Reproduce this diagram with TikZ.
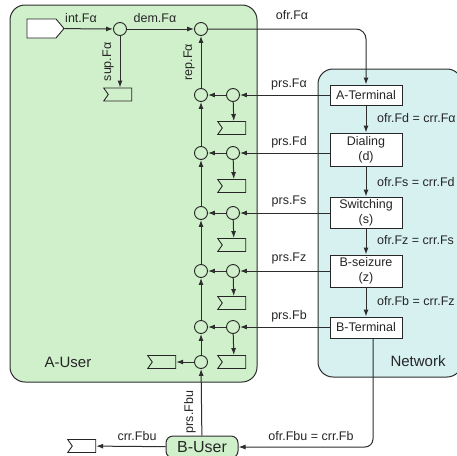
\documentclass[tikz,border=0pt]{standalone}
\usepackage{fontspec}
\setmainfont{Liberation Sans}
\usetikzlibrary{arrows.meta,shapes.symbols,calc}
\definecolor{ugreen}{RGB}{208,240,203}
\definecolor{ncyan}{RGB}{214,241,240}
\definecolor{edgec}{RGB}{45,45,45}
\begin{document}
\begin{tikzpicture}[x=1pt,y=-1pt,
  lbl/.style={font=\fontsize{12.5}{14}\selectfont, inner sep=0pt, text=black!85},
  big/.style={font=\fontsize{15}{18}\selectfont, inner sep=0pt, text=black!85},
  area/.style={draw=edgec, line width=1pt, rounded corners=15},
  pt/.style={circle, draw=black!85, minimum size=13pt, inner sep=0pt, line width=0.9pt},
  sink/.style={signal, signal from=west, signal to=nowhere, signal pointer angle=110,
     draw=black!85, line width=0.9pt, minimum width=28pt, minimum height=13pt, inner sep=0pt},
  inp/.style={signal, signal to=east, signal from=nowhere, signal pointer angle=100,
     draw=black!85, fill=white, line width=0.9pt, minimum width=37pt, minimum height=19pt, inner sep=0pt},
  conn/.style={draw=edgec, line width=1pt, -{Latex[length=7pt,width=5pt]}},
  nbox/.style={draw=black!85, fill=white, line width=0.9pt, minimum width=72pt, inner sep=1pt,
     align=center, font=\fontsize{12.5}{15}\selectfont, text=black!85},
  ubox/.style={draw=edgec, fill=ugreen, line width=1pt, rounded corners=7, minimum width=72pt,
     minimum height=22pt, inner sep=1pt, font=\fontsize{16}{18}\selectfont, text=black!85}]
\useasboundingbox (0,0) rectangle (457,455);
% areas
\draw[area, fill=ugreen] (10,5) rectangle (257,382);
\draw[area, fill=ncyan] (318,69) rectangle (462,377);
% user-side nodes
\node[inp] (in) at (41.5,28.5) {};
\node[pt] (c0) at (120,29) {};
\node[pt] (L0) at (201,29) {};
\node[sink] (s0) at (120,94.5) {};
\foreach \i/\y/\fy in {1/95/128,2/153/186,3/213/245,4/271/303,5/327/362}{
  \node[pt] (L\i) at (201,\y) {};
  \node[pt] (R\i) at (233,\y) {};
  \node[sink] (f\i) at (234,\fy) {};
}
\node[pt] (L6) at (201,362) {};
\node[sink] (s6) at (164,362) {};
\node[sink] (s7) at (84,446) {};
% network nodes
\node[nbox, minimum height=20pt] (nA) at (366,95) {A-Terminal};
\node[nbox, minimum height=33pt] (nD) at (366,149.5) {Dialing\\(d)};
\node[nbox, minimum height=31pt] (nS) at (366,212.5) {Switching\\(s)};
\node[nbox, minimum height=32pt] (nZ) at (366,271) {B-seizure\\(z)};
\node[nbox, minimum height=21pt] (nB) at (366,327.5) {B-Terminal};
\node[ubox] (bu) at (202,447) {B-User};
% connectors
\draw[conn] (in) -- (c0);
\draw[conn] (c0) -- (L0);
\draw[conn] (c0) -- (s0);
\draw[conn] (L1) -- (L0);
\draw[conn] (L2) -- (L1);
\draw[conn] (L3) -- (L2);
\draw[conn] (L4) -- (L3);
\draw[conn] (L5) -- (L4);
\draw[conn] (L6) -- (L5);
\foreach \i in {1,...,5}{
  \draw[conn] (R\i) -- (L\i);
  \draw[conn] (R\i) -- (f\i);
}
\draw[conn] (nA.west |- R1) -- (R1);
\draw[conn] (nD.west |- R2) -- (R2);
\draw[conn] (nS.west |- R3) -- (R3);
\draw[conn] (nZ.west |- R4) -- (R4);
\draw[conn] (nB.west |- R5) -- (R5);
\draw[conn] (L6) -- (s6);
\draw[conn] (bu) -- (L6);
\draw[conn] (bu) -- (s7);
\draw[conn, rounded corners=10] (L0) -- (L0 -| nA) -- (nA);
\draw[conn] (nA) -- (nD);
\draw[conn] (nD) -- (nS);
\draw[conn] (nS) -- (nZ);
\draw[conn] (nZ) -- (nB);
\draw[conn, rounded corners=8] ([xshift=7pt]nB.south) |- (bu);
% labels
\node[lbl] at (81,18) {int.Fα};
\node[lbl] at (155,18) {dem.Fα};
\node[lbl] at (292,15) {ofr.Fα};
\node[lbl, rotate=90] at (108,62) {sup.Fα};
\node[lbl, rotate=90] at (189,62) {rep.Fα};
\node[lbl] at (289,84) {prs.Fα};
\node[lbl] at (289,142) {prs.Fd};
\node[lbl] at (289,201) {prs.Fs};
\node[lbl] at (289,258) {prs.Fz};
\node[lbl] at (289,316) {prs.Fb};
\node[lbl, anchor=west] at (377,118) {ofr.Fd = crr.Fα};
\node[lbl, anchor=west] at (377,182) {ofr.Fs = crr.Fd};
\node[lbl, anchor=west] at (377,240) {ofr.Fz = crr.Fs};
\node[lbl, anchor=west] at (377,301) {ofr.Fb = crr.Fz};
\node[lbl, rotate=90] at (190,412) {prs.Fbu};
\node[lbl] at (137,436) {crr.Fbu};
\node[lbl] at (311,436) {ofr.Fbu = crr.Fb};
\node[big] at (68,362) {A-User};
\node[big] at (418,361) {Network};
\end{tikzpicture}
\end{document}
